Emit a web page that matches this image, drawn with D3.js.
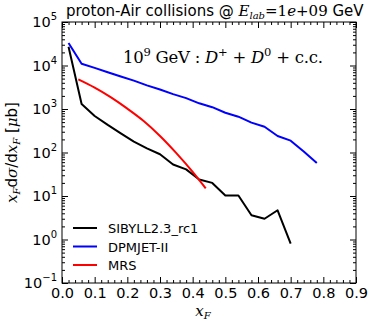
<!DOCTYPE html>
<html>
<head>
<meta charset="utf-8">
<script src="https://cdn.jsdelivr.net/npm/d3@7"></script>
<style>
  body { margin: 0; background: #fff; }
  text { font-family: "DejaVu Sans", sans-serif; }
  .serif { font-family: "DejaVu Serif", serif; }
</style>
</head>
<body>
<script>
// data
var sibyllX = [0.02, 0.06, 0.10, 0.14, 0.18, 0.22, 0.26, 0.30, 0.34, 0.38, 0.42, 0.46, 0.50, 0.54, 0.58, 0.62, 0.66, 0.70];
var sibyllY = [27000, 1300, 690, 430, 275, 178, 125, 91, 53, 41, 24, 20, 10.3, 10.3, 3.6, 3.0, 4.7, 0.8];

var dpmjetX = [0.02, 0.06, 0.10, 0.14, 0.18, 0.22, 0.26, 0.30, 0.34, 0.38, 0.42, 0.46, 0.50, 0.54, 0.58, 0.62, 0.66, 0.70, 0.74, 0.78];
var dpmjetY = [33000, 11000, 8800, 7000, 5600, 4500, 3500, 2800, 2200, 1780, 1350, 1100, 820, 665, 485, 390, 240, 187, 105, 57];

var mrsX = [0.05, 0.10, 0.15, 0.20, 0.25, 0.30, 0.35, 0.40, 0.44];
var mrsY = [4800, 3100, 1850, 1020, 530, 240, 97, 36, 15];

var legendNames = ["SIBYLL2.3_rc1", "DPMJET-II", "MRS"];
var lineColors = ["#000000", "#0000ff", "#ff0000"];

var xTicks = [0, 0.1, 0.2, 0.3, 0.4, 0.5, 0.6, 0.7, 0.8, 0.9];
var yExps = [-1, 0, 1, 2, 3, 4, 5];

var width = 378, height = 326;
var margin = {top: 22, right: 22, bottom: 43, left: 62};

var svg = d3.select("body").append("svg")
  .attr("width", width).attr("height", height);

var x = d3.scaleLinear().domain([0, 0.9]).range([margin.left, width - margin.right]);
var y = d3.scaleLog().domain([0.1, 1e5]).range([height - margin.bottom, margin.top]);

// minor ticks
var xMinor = d3.range(0, 0.9001, 0.02).filter(function(v){ return Math.abs(v*10 - Math.round(v*10)) > 1e-6; });
var yMinor = [];
yExps.slice(0, -1).forEach(function(e){
  for (var k = 2; k < 10; k++) yMinor.push(k * Math.pow(10, e));
});
var yMajor = yExps.map(function(e){ return Math.pow(10, e); });

var x0 = margin.left, x1 = width - margin.right, y0 = height - margin.bottom, y1 = margin.top;

function drawAxis(axis, tr) {
  var g = svg.append("g").attr("transform", tr).call(axis);
  g.select(".domain").remove();
  g.selectAll("line").attr("stroke", "#000").attr("stroke-width", 1);
  return g;
}

// bottom
var gx = drawAxis(d3.axisBottom(x).tickValues(xTicks).tickSize(-6).tickPadding(5).tickFormat(d3.format(".1f")), "translate(0," + y0 + ")");
gx.selectAll("text").attr("font-size", 14.5).attr("fill", "#000");
drawAxis(d3.axisBottom(x).tickValues(xMinor).tickSize(-3).tickFormat(""), "translate(0," + y0 + ")");
// top
drawAxis(d3.axisTop(x).tickValues(xTicks).tickSize(-6).tickFormat(""), "translate(0," + y1 + ")");
drawAxis(d3.axisTop(x).tickValues(xMinor).tickSize(-3).tickFormat(""), "translate(0," + y1 + ")");
// left
drawAxis(d3.axisLeft(y).tickValues(yMajor).tickSize(-6).tickFormat(""), "translate(" + x0 + ",0)");
drawAxis(d3.axisLeft(y).tickValues(yMinor).tickSize(-3).tickFormat(""), "translate(" + x0 + ",0)");
// right
drawAxis(d3.axisRight(y).tickValues(yMajor).tickSize(-6).tickFormat(""), "translate(" + x1 + ",0)");
drawAxis(d3.axisRight(y).tickValues(yMinor).tickSize(-3).tickFormat(""), "translate(" + x1 + ",0)");

// y tick labels with superscripts
yExps.forEach(function(e){
  var t = svg.append("text")
    .attr("x", x0 - 5).attr("y", y(Math.pow(10, e)) + 5)
    .attr("text-anchor", "end").attr("font-size", 14.5).attr("fill", "#000");
  t.append("tspan").text("10");
  t.append("tspan").attr("dy", -7).attr("font-size", 10).text(e < 0 ? "\u2212" + (-e) : e);
});

// frame
svg.append("rect")
  .attr("x", x0).attr("y", y1).attr("width", x1 - x0).attr("height", y0 - y1)
  .attr("fill", "none").attr("stroke", "#000").attr("stroke-width", 1);

// lines
svg.append("clipPath").attr("id", "clip").append("rect")
  .attr("x", x0).attr("y", y1).attr("width", x1 - x0).attr("height", y0 - y1);

var series = [
  {xs: sibyllX, ys: sibyllY, curve: d3.curveLinear},
  {xs: dpmjetX, ys: dpmjetY, curve: d3.curveLinear},
  {xs: mrsX, ys: mrsY, curve: d3.curveMonotoneX}
];
series.forEach(function(s, i){
  var line = d3.line().curve(s.curve)
    .x(function(d){ return x(d[0]); })
    .y(function(d){ return y(d[1]); });
  svg.append("path")
    .datum(d3.zip(s.xs, s.ys))
    .attr("clip-path", "url(#clip)")
    .attr("d", line)
    .attr("fill", "none")
    .attr("stroke", lineColors[i])
    .attr("stroke-width", 2)
    .attr("stroke-linejoin", "round");
});

// legend
legendNames.forEach(function(n, i){
  var ly = 228 + i * 18.5;
  svg.append("line").attr("x1", 73).attr("x2", 97).attr("y1", ly).attr("y2", ly)
    .attr("stroke", lineColors[i]).attr("stroke-width", 2);
  svg.append("text").attr("x", 108).attr("y", ly + 5).attr("font-size", 13).text(n);
});

// title
var title = svg.append("text").attr("x", 66).attr("y", 16).attr("font-size", 15);
title.append("tspan").text("proton-Air collisions @ ");
title.append("tspan").attr("class", "serif").attr("font-style", "italic").text("E");
title.append("tspan").attr("class", "serif").attr("font-style", "italic").attr("font-size", 10).attr("dy", 3).text("lab");
title.append("tspan").attr("class", "serif").attr("dy", -3).text("=1");
title.append("tspan").attr("class", "serif").attr("font-style", "italic").text("e");
title.append("tspan").attr("class", "serif").text("+09");
title.append("tspan").text(" GeV");

// annotation
var ann = svg.append("text").attr("class", "serif").attr("x", 123).attr("y", 63)
  .attr("font-size", 16.5).attr("font-weight", 300)
  .attr("textLength", 200).attr("lengthAdjust", "spacing");
ann.append("tspan").text("10");
ann.append("tspan").attr("font-size", 11.5).attr("dy", -7).text("9");
ann.append("tspan").attr("dy", 7).text(" GeV : ");
ann.append("tspan").attr("font-style", "italic").text("D");
ann.append("tspan").attr("font-size", 11.5).attr("dy", -7).text("+");
ann.append("tspan").attr("dy", 7).text(" + ");
ann.append("tspan").attr("font-style", "italic").text("D");
ann.append("tspan").attr("font-size", 11.5).attr("dy", -7).text("0");
ann.append("tspan").attr("dy", 7).text(" + c.c.");

// x label
var xl = svg.append("text").attr("class", "serif").attr("x", 203).attr("y", 316)
  .attr("text-anchor", "middle").attr("font-size", 15);
xl.append("tspan").attr("font-style", "italic").text("x");
xl.append("tspan").attr("font-style", "italic").attr("font-size", 10).attr("dy", 3).text("F");

// y label
var yl = svg.append("text").attr("transform", "translate(17," + ((y0 + y1) / 2) + ") rotate(-90)")
  .attr("text-anchor", "middle").attr("font-size", 15);
yl.append("tspan").attr("class", "serif").attr("font-style", "italic").text("x");
yl.append("tspan").attr("class", "serif").attr("font-style", "italic").attr("font-size", 10).attr("dy", 3).text("F");
yl.append("tspan").attr("dy", -3).text("d");
yl.append("tspan").attr("class", "serif").attr("font-style", "italic").text("\u03c3");
yl.append("tspan").text("/d");
yl.append("tspan").attr("class", "serif").attr("font-style", "italic").text("x");
yl.append("tspan").attr("class", "serif").attr("font-style", "italic").attr("font-size", 10).attr("dy", 3).text("F");
yl.append("tspan").attr("dy", -3).text(" [");
yl.append("tspan").attr("class", "serif").attr("font-style", "italic").text("\u03bc");
yl.append("tspan").text("b]");
</script>
</body>
</html>
